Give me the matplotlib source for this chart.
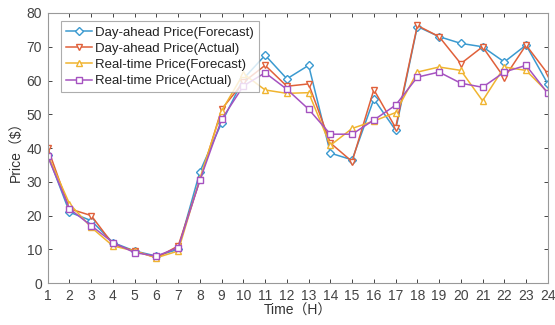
import numpy as np
import matplotlib.pyplot as plt

hours = np.arange(1, 25)
da_forecast = [38, 21, 18.5, 12, 9.5, 8, 10, 33, 47.5, 60.5, 67.5, 60.5, 64.5, 38.5, 36.5, 54.5, 45.3, 76, 73, 71, 70, 65.5, 70.5, 59]
da_actual = [40, 22, 20, 11.5, 9.5, 7.5, 11, 30.5, 51.5, 59.5, 64.5, 58.3, 59, 41.5, 36, 57.3, 46, 76.3, 73, 65, 70, 60.8, 70.5, 62]
rt_forecast = [38, 23.5, 16.5, 11, 9.5, 7.5, 9.5, 31, 51, 62, 57.2, 56.2, 56.4, 40.8, 45.8, 48, 50.5, 62.5, 64, 63, 54, 64, 63, 56.5]
rt_actual = [37.5, 22, 17, 12, 9, 8, 10.5, 30.5, 48.5, 58.4, 62.3, 57.4, 51.5, 44.1, 44.1, 48.3, 52.7, 61, 62.5, 59.2, 58, 62.5, 64.5, 56.2]

series = [
    ('Day-ahead Price(Forecast)', da_forecast, '#3b9ad0', 'D', 3.8),
    ('Day-ahead Price(Actual)', da_actual, '#e0603a', 'v', 4.8),
    ('Real-time Price(Forecast)', rt_forecast, '#f0b430', '^', 4.8),
    ('Real-time Price(Actual)', rt_actual, '#a552c0', 's', 3.8),
]

plt.rcParams['font.family'] = ['Liberation Sans', 'Noto Sans CJK SC', 'DejaVu Sans']

fig = plt.figure(figsize=(5.55, 3.25), dpi=100)
ax = fig.add_axes([0.086, 0.129, 0.901, 0.831])

for name, vals, col, mk, ms in series:
    ax.plot(hours, vals, color=col, marker=mk, markersize=ms, markerfacecolor='white',
            markeredgecolor=col, markeredgewidth=1.0, linewidth=1.1, label=name)

ax.set_xlim(1, 24)
ax.set_ylim(0, 80)
ax.set_xticks(hours)
ax.set_yticks(np.arange(0, 81, 10))
ax.tick_params(direction='in', top=True, right=True, labelsize=10, colors='#444444',
               length=3, width=0.7, pad=4)
for s in ax.spines.values():
    s.set_color('#999999')
    s.set_linewidth(0.8)

ax.set_xlabel('Time（H）', fontsize=10, color='#333333', labelpad=1)
ax.set_ylabel('Price（$）', fontsize=10, color='#333333', labelpad=2)

leg = ax.legend(loc='upper left', bbox_to_anchor=(0.026, 0.97), fontsize=9.5, frameon=True,
                fancybox=False, edgecolor='#999999', handlelength=2.0, handletextpad=0.2,
                borderpad=0.4, labelspacing=0.3, borderaxespad=0.0)
leg.get_frame().set_linewidth(0.8)
for t in leg.get_texts():
    t.set_color('#222222')

fig.savefig('out.png', dpi=100)
